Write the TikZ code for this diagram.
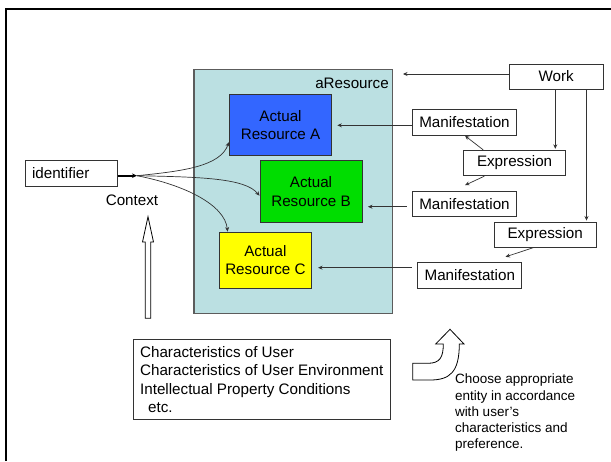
\documentclass[tikz,border=0pt]{standalone}
\usepackage{fontspec}
\setmainfont{Liberation Sans}
\usetikzlibrary{arrows.meta,calc}
\definecolor{teal0}{HTML}{BBE0E2}
\definecolor{blueA}{HTML}{3366FF}
\definecolor{greenB}{HTML}{00DD00}
\definecolor{yellowC}{HTML}{FFFF00}
\definecolor{edge}{HTML}{333333}
\tikzset{
  box/.style={draw=edge, line width=0.9pt, inner sep=0pt, align=center,
    font=\fontsize{15.2}{18.4}\selectfont},
  res/.style={box, draw=edge},
  arr/.style={draw=edge, line width=0.7pt, -{Stealth[length=4.5pt,width=4pt]}},
  hollow/.style={draw=black, line width=0.8pt, fill=white},
  txt/.style={inner sep=0pt, font=\fontsize{15.2}{18.4}\selectfont}
}
\begin{document}
\begin{tikzpicture}[x=1pt,y=-1pt]
\useasboundingbox (0,0) rectangle (611,461);
\fill[white] (0,0) rectangle (611,461);
% outer frame (left and top edges)
\draw[black, line width=2.3pt] (6,461) -- (6,9.3) -- (611,9.3);

% container and actual resources
\node[box, draw=edge!80, line width=1.1pt, fill=teal0, minimum width=198.5pt, minimum height=244.3pt] (ares) at (293.2,191.2) {};
\node[txt, anchor=east] (alabel) at (389,83) {aResource};
\node[res, fill=blueA, minimum width=102pt, minimum height=61.4pt] (A) at (280.5,125) {Actual\\Resource A};
\node[res, fill=greenB, minimum width=102pt, minimum height=61.6pt] (B) at (311,191.5) {Actual\\Resource B};
\node[res, fill=yellowC, minimum width=92pt, minimum height=56.3pt] (C) at (265.4,260.2) {Actual\\Resource C};

% identifier and context
\node[box, align=left, text width=78.6pt, inner xsep=6.7pt, minimum height=25.3pt] (ident) at (71.3,173.3) {identifier};
\coordinate (hub) at (137,175.7);
\draw[black, line width=2pt, -{Stealth[length=5pt,width=4.5pt]}] ([yshift=-2.4pt]ident.east) -- (hub);
\node[txt] (ctx) at (132,200) {Context};
\draw[arr] (hub) .. controls (185,171) and (220,166) .. ([yshift=14pt]A.south west);
\draw[arr] (hub) .. controls (200,177) and (245,178) .. ([yshift=-4.2pt]B.west);
\draw[arr] (hub) .. controls (185,185) and (225,205) .. ([xshift=8.6pt]C.north west);

% hollow arrow pointing up to the context
\draw[hollow] (145.3,318.3) -- (145.3,242) -- (142.5,242) -- (148,216.7) -- (153.5,242) -- (150.7,242) -- (150.7,318.3) -- cycle;

% FRBR entities
\node[box, minimum width=93.5pt, minimum height=25pt] (work) at (556.2,76.5) {Work};
\node[box, minimum width=104.5pt, minimum height=26pt] (M1) at (464.5,122.3) {Manifestation};
\node[box, minimum width=102.5pt, minimum height=25.4pt] (E1) at (514.6,163) {Expression};
\node[box, minimum width=104.5pt, minimum height=25.4pt] (M2) at (464.5,204) {Manifestation};
\node[box, minimum width=102pt, minimum height=25pt] (E2) at (545.2,234.5) {Expression};
\node[box, minimum width=104pt, minimum height=25.6pt] (M3) at (469.8,275.5) {Manifestation};

\coordinate (wk) at (403,74);
\draw[arr] (work.west |- wk) -- (wk);
\draw[arr, shorten >=1pt] ([xshift=-0.9pt]work.south) -- ([xshift=-0.9pt]work.south |- E1.north) ;
\draw[arr, shorten >=1pt] ([xshift=30.3pt]work.south) -- ([xshift=30.3pt]work.south |- E2.north);
\draw[arr] ([xshift=-31.4pt]E1.north) -- ([xshift=0.5pt]M1.south);
\draw[arr] ([xshift=-30.2pt]E1.south) -- ([xshift=0.5pt,yshift=5.6pt]M2.north);
\draw[arr] ([xshift=-11.3pt]E2.south) -- ([xshift=35.7pt,yshift=5.4pt]M3.north);

\draw[arr, shorten >=5.4pt] ([yshift=-3pt]M1.west) -- ([yshift=-3pt]M1.west -| A.east);
\draw[arr, shorten <=5pt, shorten >=5.5pt] ([yshift=-2.7pt]M2.west) -- ([yshift=-2.7pt]M2.west -| B.east);
\draw[arr, shorten <=5.8pt, shorten >=6.2pt] ([yshift=7.8pt]M3.west) -- ([yshift=7.8pt]M3.west -| C.east);

% user conditions
\node[box, anchor=north west, align=left, minimum width=257.6pt, minimum height=80pt] (cond) at (132.5,339)
  {Characteristics of User\\Characteristics of User Environment\\Intellectual Property Conditions\\\hspace*{8pt}etc.};

% curved hollow arrow
\draw[hollow] (412.7,363.3) -- (428,363.3) .. controls (440,363.3) and (443.3,357) .. (443.3,344)
  -- (435.7,344) -- (450,329.3) -- (464,344) -- (459.3,344)
  .. controls (459.3,372) and (450,380) .. (430,380) -- (412.7,380) -- cycle;
\node[anchor=north west, inner sep=0pt, align=left, font=\fontsize{13.5}{16.2}\selectfont] (choose) at (454.8,374)
  {Choose appropriate\\entity in accordance\\with user's\\characteristics and\\preference.};
\end{tikzpicture}
\end{document}
